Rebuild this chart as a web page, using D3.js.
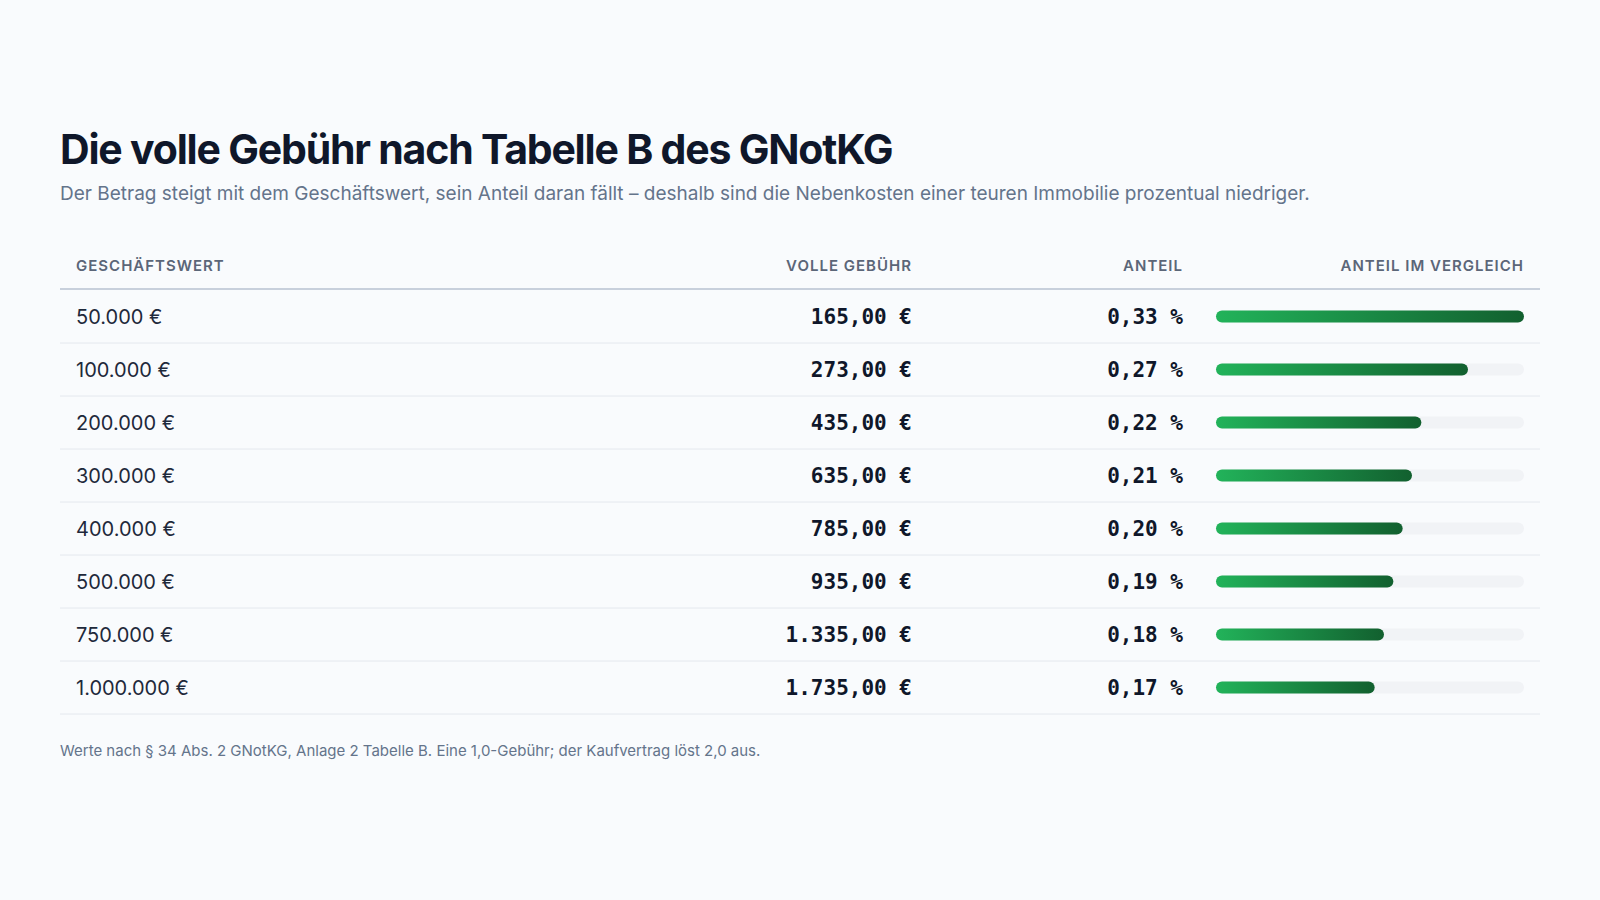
<!DOCTYPE html>
<html><head><meta charset="utf-8">
<script src="https://cdn.jsdelivr.net/npm/d3@7"></script>
<style>body{margin:0;background:#f9fbfd;}</style>
</head><body>
<script>
const categories = ["50.000 €","100.000 €","200.000 €","300.000 €","400.000 €","500.000 €","750.000 €","1.000.000 €"];
const fees = [165,273,435,635,785,935,1335,1735];
const shares = [0.33,0.27,0.22,0.21,0.20,0.19,0.18,0.17];
const headers = ["GESCHÄFTSWERT","VOLLE GEBÜHR","ANTEIL","ANTEIL IM VERGLEICH"];

const W=1600,H=900;
const svg=d3.select("body").append("svg").attr("width",W).attr("height",H);
svg.append("rect").attr("width",W).attr("height",H).attr("fill","#f9fbfd");
const defs=svg.append("defs");
const g=defs.append("linearGradient").attr("id","gr").attr("x1","0").attr("x2","1");
g.append("stop").attr("offset","0").attr("stop-color","#22b35a");
g.append("stop").attr("offset","1").attr("stop-color","#12602f");

const sans="Inter, 'Noto Sans', sans-serif", mono="'DejaVu Sans Mono', monospace";
svg.append("text").attr("x",60).attr("y",164).text("Die volle Gebühr nach Tabelle B des GNotKG")
 .attr("font-family",sans).attr("font-weight",700).attr("font-size",41).attr("letter-spacing",-1.2).attr("fill","#0f172a");
svg.append("text").attr("x",60).attr("y",200).text("Der Betrag steigt mit dem Geschäftswert, sein Anteil daran fällt – deshalb sind die Nebenkosten einer teuren Immobilie prozentual niedriger.")
 .attr("font-family",sans).attr("font-size",19).attr("fill","#64748b");

const L=60,R=1540,c1=76,c2=912,c3=1183,b0=1216,b1=1524;
const hx=[c1,c2,c3,b1], ha=["start","end","end","end"];
headers.forEach((h,i)=>svg.append("text").attr("x",hx[i]).attr("y",271).attr("text-anchor",ha[i]).text(h)
 .attr("font-family",sans).attr("font-weight",600).attr("font-size",15).attr("letter-spacing",1).attr("fill","#5b6678"));
svg.append("line").attr("x1",L).attr("x2",R).attr("y1",289).attr("y2",289).attr("stroke","#c8d0dc").attr("stroke-width",2);

const y=d3.scaleBand().domain(categories).range([290,290+53*categories.length]);
const x=d3.scaleLinear().domain([0,d3.max(shares)]).range([0,b1-b0]);
const fmt=d3.formatLocale({decimal:",",thousands:".",grouping:[3],currency:["","€"]}).format(",.2f");
const rows=svg.selectAll("g.r").data(categories).join("g").attr("transform",d=>`translate(0,${y(d)})`);
rows.append("line").attr("x1",L).attr("x2",R).attr("y1",53).attr("y2",53).attr("stroke","#e4e8ee");
const cy=y.bandwidth()/2;
rows.append("text").attr("x",c1).attr("y",cy+7).text(d=>d).attr("font-family",sans).attr("font-size",20).attr("fill","#1e293b");
rows.append("text").attr("x",c2).attr("y",cy+7).attr("text-anchor","end").text((d,i)=>fmt(fees[i])+" €")
 .attr("font-family",mono).attr("font-weight",700).attr("font-size",21).attr("fill","#0f172a");
rows.append("text").attr("x",c3).attr("y",cy+7).attr("text-anchor","end").text((d,i)=>fmt(shares[i])+" %")
 .attr("font-family",mono).attr("font-weight",700).attr("font-size",21).attr("fill","#0f172a");
rows.append("rect").attr("x",b0).attr("y",cy-6).attr("width",b1-b0).attr("height",12).attr("rx",6).attr("fill","#f1f3f6");
rows.append("rect").attr("x",b0).attr("y",cy-6).attr("width",(d,i)=>x(shares[i])).attr("height",12).attr("rx",6).attr("fill","url(#gr)");

svg.append("text").attr("x",60).attr("y",756).text("Werte nach § 34 Abs. 2 GNotKG, Anlage 2 Tabelle B. Eine 1,0-Gebühr; der Kaufvertrag löst 2,0 aus.")
 .attr("font-family",sans).attr("font-size",15).attr("fill","#64748b");
</script>
</body></html>
